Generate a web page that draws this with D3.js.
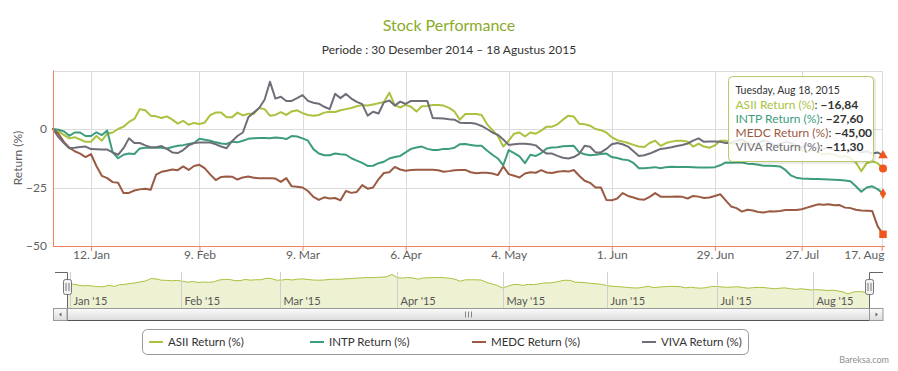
<!DOCTYPE html>
<html lang="id">
<head>
<meta charset="UTF-8">
<title>Stock Performance</title>
<style>
  body{margin:0;background:#fff;}
  svg{display:block;font-family:Lato,"Open Sans",sans-serif;}
  .grid line{stroke:#dcdcdc;stroke-width:1;shape-rendering:crispEdges;}
  .axis text{fill:#606060;font-size:12px;font-family:Lato,"Open Sans",sans-serif;}
  .axis .domain,.axis .tick line{stroke:#f08262;}
  .series{fill:none;stroke-width:2;stroke-linejoin:round;stroke-linecap:round;}
</style>
</head>
<body>
<svg width="898" height="371"></svg>
<script src="https://cdn.jsdelivr.net/npm/d3@7"></script>
<script>
// trading days: weekdays between these dates, minus exchange holidays
var startDate = "2014-12-30", endDate = "2015-08-18";
var holidays = ["2014-12-31","2015-01-01","2015-02-19","2015-04-03","2015-05-01","2015-05-14",
  "2015-06-02","2015-07-16","2015-07-17","2015-07-20","2015-07-21","2015-08-17"];

var seriesNames = ["ASII Return (%)","INTP Return (%)","MEDC Return (%)","VIVA Return (%)"];
var seriesColors = ["#a9c23f","#3d9c7c","#9a5a43","#6f6e78"];
var markerTypes = [d3.symbolCircle, d3.symbolDiamond, d3.symbolSquare, d3.symbolTriangle];
var markerSizes = [50, 34, 56, 40];

var asii = [0,-1,-2.5,-4,-3.5,-4.5,-5.5,-5.5,-3,-5,
  -2,-1.5,0,1,3,4.3,8.5,8,5.7,5.4,
  4.7,5.4,4,2.3,3.5,1.8,2.6,2.1,2.8,6,
  7,7,5,5,7,5.8,6.5,6.5,9,8.5,
  5.7,6,7.2,6,7.5,8,6.8,6,5.7,6,
  7,7.4,7.3,8,8.5,9,9.7,10.2,10,10.5,
  11,11.5,15.5,10.2,9.2,10.3,9.5,7.5,9.7,9.8,
  10.3,10.3,10,9,7.5,4,6.4,6.4,6.4,6,
  2.1,-0.5,-3,-7.5,-5,-2,-1.5,-3.2,-1.5,-2,
  -0.7,1,1,2,4,5.7,5.3,2.2,2,1.4,
  0,-0.5,-1.5,-3.5,-4.8,-5.3,-6,-6.8,-7.5,-7.7,
  -6,-5,-7.2,-6,-5.4,-5,-5,-5.4,-7.5,-6.3,
  -7.5,-8,-7,-5,-5,-6,-6.5,-6,-5.5,-7,
  -8,-7,-6.5,-7,-8,-9,-8,-7.5,-9,-10,
  -9,-10,-11,-10.5,-11,-12,-11.5,-12.5,-14.3,-18,
  -14.6,-13.8,-14.6,-16.84];
var intp = [0,-0.3,-1,-2.9,-1.5,-1.5,-3,-3,-1.4,-2.6,
  -0.7,-10,-12.5,-11,-10.5,-10.7,-8.3,-8,-8,-8,
  -8,-8.3,-7.7,-7.2,-6.9,-6.4,-6,-4.2,-4.6,-5,
  -5.7,-6.2,-6.4,-5.4,-5.7,-5,-4.2,-4,-3.8,-3.8,
  -4,-3.6,-3.8,-4.3,-3,-3.2,-4,-5,-8.6,-10.5,
  -11.2,-11.2,-10.5,-10.8,-11,-12.5,-13.5,-14.5,-15.8,-15.7,
  -14.6,-14,-12.6,-12,-11.5,-10,-8.5,-7.9,-7.5,-8.5,
  -9,-9,-8.5,-8.5,-8,-6.5,-6.4,-6.8,-7.2,-7.2,
  -9.2,-11,-12.6,-15.5,-9,-10.3,-11.7,-14.6,-11,-11.5,
  -10.3,-8.3,-7.9,-7.8,-7.4,-7.3,-7.2,-10,-10.8,-11.2,
  -11,-10.7,-10.5,-12,-12.4,-13,-13.3,-14.5,-16.8,-16.8,
  -16.6,-16.3,-16.8,-16.3,-16.1,-16.2,-16.2,-16.2,-16.3,-16.4,
  -16.5,-16.5,-16.3,-15.5,-14.3,-14.4,-14.2,-14.3,-14.8,-15,
  -15.3,-15.7,-15.7,-15.8,-16,-17.5,-19.8,-20.8,-21.2,-21.3,
  -21.4,-21.4,-21.5,-21.6,-21.7,-21.8,-22,-22.3,-24.5,-26.8,
  -25,-24.5,-25.7,-27.6];
var medc = [0,-2,-5.5,-8,-9.5,-10.5,-12,-10.7,-15.8,-20,
  -21,-22.7,-23,-27.4,-27.3,-26.3,-25.8,-25.5,-26,-19.5,
  -18.3,-17.8,-17.3,-17.6,-16,-17.5,-15.8,-15.3,-16.8,-19.5,
  -21.8,-20.5,-20.3,-20.4,-21.6,-20.7,-20.3,-20.8,-21,-21,
  -21,-21.2,-22.6,-21,-24.5,-24.7,-25,-26.5,-29,-30.3,
  -29.2,-29.7,-29.5,-30.5,-26.5,-27.3,-26.9,-24,-25.5,-25,
  -21.5,-18.8,-18.5,-16.2,-17.3,-17.8,-17.5,-17.4,-17.4,-17.4,
  -17.4,-17.6,-18.3,-18,-17.6,-17.5,-17.5,-18.5,-18.9,-18.7,
  -18.7,-19,-19.7,-16,-19.3,-20,-20.7,-19,-18.5,-18.7,
  -17.6,-18.6,-18.8,-18.3,-18,-18.2,-17.5,-20,-22.1,-23,
  -25,-25,-30.3,-30.5,-29.7,-27.4,-28.6,-29.3,-30,-30.2,
  -29,-27.4,-28.9,-28.9,-28.9,-28.8,-29,-29.7,-28.6,-28.9,
  -29.5,-29.3,-28.6,-27.9,-30.5,-33.1,-33.8,-35.3,-34.5,-34.8,
  -35.5,-35.7,-35.2,-35.3,-35,-34.6,-34.6,-34.6,-34.3,-33.6,
  -32.9,-32.2,-32.4,-32.2,-32.6,-32.5,-33.6,-33.8,-34.5,-34.8,
  -34.9,-35,-41.5,-45];
var viva = [0,-3.5,-6,-8.2,-8,-7.7,-7.5,-8.6,-8.7,-8.8,
  -8.8,-10,-11,-8.2,-4,-6,-6,-7,-7.8,-7.8,
  -7.3,-8.5,-10,-10.3,-9,-7,-6,-5.8,-5.8,-5.8,
  -6.5,-7.5,-8.2,-5.2,-3,-1.5,5,7,9,12.5,
  20.2,13,13.8,12,12,13.2,14.5,12,11.2,10.8,
  9.5,8.5,15,13.2,15,13,11.6,10.6,5.7,7.4,
  6.6,11.4,12.2,10,11.7,10.7,12,12,12,12,
  4.7,4.6,4.5,4.2,4,2.7,2.6,2.6,2.2,1.3,
  0,-1.5,-2.5,-4.5,-6.8,-6.5,-6.3,-6.3,-6.5,-7,
  -9,-10.5,-10.5,-11.5,-12.3,-12.6,-12,-10.6,-7.2,-7.6,
  -10,-10,-8.5,-6.5,-6,-6.5,-7.5,-9.5,-11.5,-11.2,
  -10.5,-9.5,-8.5,-8.2,-7.8,-7.3,-6.8,-6.2,-5,-4,
  -5.5,-5.3,-5.3,-5.5,-6,-6,-5,-4.5,-6,-7,
  -6,-5,-5.5,-7,-6.5,-5.5,-6,-7,-8,-7,
  -7.5,-8,-8.5,-8,-9,-9.5,-9,-9.5,-9,-10,
  -9.5,-10.5,-10,-11.3];

var yTicks = [0, -25, -50];
var xTickDates = ["2015-01-12","2015-02-09","2015-03-09","2015-04-06","2015-05-04",
  "2015-06-01","2015-06-29","2015-07-27","2015-08-17"];
var navTickDates = ["2015-01-01","2015-02-01","2015-03-01","2015-04-01","2015-05-01",
  "2015-06-01","2015-07-01","2015-08-01"];

var allSeries = [asii, intp, medc, viva];

var parseDate = d3.utcParse("%Y-%m-%d"), keyDate = d3.utcFormat("%Y-%m-%d");
var days = d3.utcDays(parseDate(startDate), d3.utcDay.offset(parseDate(endDate), 1))
  .filter(function(d){ var w = d.getUTCDay(); return w !== 0 && w !== 6 && holidays.indexOf(keyDate(d)) < 0; });
var dayNums = days.map(Number);

// ordinal position of any date (interpolated between trading days)
function ordinalPos(s){
  var t = +parseDate(s), i = d3.bisectLeft(dayNums, t);
  if (dayNums[i] === t) return i;
  return i - 1 + (t - dayNums[i-1]) / (dayNums[i] - dayNums[i-1]);
}

var svg = d3.select("svg");
var plot = {left:53, right:883, top:70.5, bottom:246};
var x = d3.scaleLinear().domain([0, days.length - 1]).range([plot.left, plot.right]);
var y = d3.scaleLinear().domain([-50, 25]).range([plot.bottom, plot.top]);

// titles
svg.append("text").attr("x", 449).attr("y", 31).attr("text-anchor", "middle")
  .style("font-size", "16px").style("fill", "#8aab2b").text("Stock Performance");
svg.append("text").attr("x", 449).attr("y", 54).attr("text-anchor", "middle")
  .style("font-size", "12px").style("fill", "#333").text("Periode : 30 Desember 2014 \u2013 18 Agustus 2015");

// grid
var xTickPos = xTickDates.map(ordinalPos);
var grid = svg.append("g").attr("class", "grid");
grid.selectAll(".h").data([25, 0, -25]).enter().append("line")
  .attr("x1", plot.left).attr("x2", plot.right)
  .attr("y1", function(d){ return Math.round(y(d)) + 0.5; })
  .attr("y2", function(d){ return Math.round(y(d)) + 0.5; });
grid.selectAll(".v").data(xTickPos).enter().append("line")
  .attr("x1", function(d){ return Math.round(x(d)) + 0.5; })
  .attr("x2", function(d){ return Math.round(x(d)) + 0.5; })
  .attr("y1", plot.top).attr("y2", plot.bottom);

// series lines
var line = d3.line().x(function(d, i){ return x(i); }).y(function(d){ return y(d); });
svg.selectAll(".series").data(allSeries).enter().append("path")
  .attr("class", "series")
  .attr("stroke", function(d, i){ return seriesColors[i]; })
  .attr("d", line);

// axes
var fmtDay = d3.utcFormat("%-d. %b");
var gx = svg.append("g").attr("class", "axis x")
  .attr("transform", "translate(0," + plot.bottom + ")")
  .call(d3.axisBottom(x).tickValues(xTickPos).tickSizeOuter(0).tickSize(5)
    .tickFormat(function(d, i){ return fmtDay(parseDate(xTickDates[i])); }));
gx.select(".domain").attr("d", "M" + plot.left + ",0.5H" + (plot.right + 2));
gx.selectAll(".tick text").attr("dy", "0.55em").attr("y", 6);
gx.selectAll(".tick").filter(function(d, i){ return i === xTickPos.length - 1; })
  .select("text").attr("text-anchor", "end")
  .attr("x", plot.right + 1 - x(xTickPos[xTickPos.length - 1]));

var gy = svg.append("g").attr("class", "axis y")
  .attr("transform", "translate(" + plot.left + ",0)")
  .call(d3.axisLeft(y).tickValues(yTicks).tickSize(0).tickPadding(6).tickSizeOuter(0));
gy.select(".domain").attr("d", "M0.5," + plot.top + "V" + plot.bottom);
svg.append("text").attr("transform", "translate(22,158) rotate(-90)")
  .attr("text-anchor", "middle").style("font-size", "12px").style("fill", "#606060")
  .text("Return (%)");

// end markers
var last = days.length - 1;
svg.selectAll(".marker").data(allSeries).enter().append("path")
  .attr("d", function(d, i){ return d3.symbol().type(markerTypes[i]).size(markerSizes[i])(); })
  .attr("transform", function(d){ return "translate(" + x(last) + "," + y(d[last]) + ")"; })
  .attr("fill", "#f0561d");

// tooltip
var comma = d3.formatLocale({decimal:",", thousands:".", grouping:[3], currency:["",""], minus:"\u2212"}).format(".2f");
var tip = svg.append("g").attr("transform", "translate(728.5,76.5)");
tip.append("rect").attr("x", 1).attr("y", 1).attr("width", 145).attr("height", 85).attr("rx", 4)
  .attr("fill", "none").attr("stroke", "#000").attr("stroke-opacity", 0.08).attr("stroke-width", 3);
tip.append("rect").attr("width", 145).attr("height", 85).attr("rx", 4)
  .attr("fill", "#fff").attr("fill-opacity", 0.85).attr("stroke", "#b7cb6b");
tip.append("text").attr("x", 7).attr("y", 17).style("font-size", "10.5px").style("fill", "#333")
  .text(d3.utcFormat("%A, %b %-d, %Y")(days[last]));
var rows = tip.selectAll(".row").data(allSeries).enter().append("text")
  .attr("x", 7).attr("y", function(d, i){ return 32 + i * 14.3; })
  .style("font-size", "12px");
rows.append("tspan").style("fill", function(d, i){ return seriesColors[i]; })
  .text(function(d, i){ return seriesNames[i]; });
rows.append("tspan").style("fill", "#333").text(": ");
rows.append("tspan").style("fill", "#333").style("font-weight", "bold")
  .text(function(d){ return comma(d[last]); });

// navigator
var nav = {left:67, right:869, top:272, bottom:308};
var nx = d3.scaleLinear().domain([0, days.length - 1]).range([nav.left, nav.right]);
var ny = d3.scaleLinear().domain(d3.extent(asii)).range([294, 274.5]);
svg.append("path").datum(asii)
  .attr("fill", "#eef2d2")
  .attr("d", d3.area().x(function(d, i){ return nx(i); }).y0(nav.bottom).y1(function(d){ return ny(d); }));
svg.append("path").datum(asii).attr("fill", "none").attr("stroke", "#a9c23f").attr("stroke-width", 1)
  .attr("d", d3.line().x(function(d, i){ return nx(i); }).y(function(d){ return ny(d); }));
var navPos = navTickDates.map(ordinalPos);
var fmtMonth = d3.utcFormat("%b '%y");
var navTicks = svg.append("g").selectAll("g").data(navPos).enter().append("g")
  .attr("transform", function(d){ return "translate(" + (Math.round(nx(d)) + 0.5) + ",0)"; });
navTicks.append("line").attr("y1", nav.top).attr("y2", nav.bottom).attr("stroke", "#cfcfcf");
navTicks.append("text").attr("x", 3).attr("y", 305).style("font-size", "11px").style("fill", "#555")
  .text(function(d, i){ return fmtMonth(parseDate(navTickDates[i])); });

// navigator outline
svg.append("path").attr("fill", "none").attr("stroke", "#666").attr("stroke-width", 1)
  .attr("d", "M55," + (nav.top + 0.5) + "H" + (nav.left + 0.5) + "V" + nav.bottom +
    "M" + (nav.right + 0.5) + "," + nav.bottom + "V" + (nav.top + 0.5) + "H883");
[nav.left, nav.right].forEach(function(hx){
  var h = svg.append("g").attr("transform", "translate(" + (hx + 0.5) + ",287)");
  h.append("rect").attr("x", -4).attr("y", -7.5).attr("width", 8).attr("height", 15).attr("rx", 2)
    .attr("fill", "#f2f2f2").attr("stroke", "#777");
  h.append("path").attr("d", "M-1.5,-4V4M1.5,-4V4").attr("stroke", "#777");
});

// scrollbar
var sb = {top:308.5, height:12};
var grad = svg.append("defs").append("linearGradient").attr("id", "sbgrad")
  .attr("x1", 0).attr("y1", 0).attr("x2", 0).attr("y2", 1);
grad.append("stop").attr("offset", 0).attr("stop-color", "#fbfbfb");
grad.append("stop").attr("offset", 1).attr("stop-color", "#dcdcdc");
svg.append("rect").attr("x", 53.5).attr("y", sb.top).attr("width", 829).attr("height", sb.height)
  .attr("fill", "#f4f4f4").attr("stroke", "#999");
svg.append("rect").attr("x", nav.left + 0.5).attr("y", sb.top).attr("width", nav.right - nav.left).attr("height", sb.height)
  .attr("fill", "url(#sbgrad)").attr("stroke", "#999");
svg.append("path").attr("d", "M" + (plot.left + 0.5) + "," + (sb.top + sb.height) + "H" + (plot.right))
  .attr("stroke", "#555");
var mid = (nav.left + nav.right) / 2;
svg.append("path").attr("stroke", "#888")
  .attr("d", "M" + (mid - 2.5) + "," + (sb.top + 3) + "v6M" + (mid + 0.5) + "," + (sb.top + 3) + "v6M" + (mid + 3.5) + "," + (sb.top + 3) + "v6");
[[53.5, 1], [869.5, -1]].forEach(function(b){
  var bx = b[0];
  svg.append("rect").attr("x", bx).attr("y", sb.top).attr("width", 13.5).attr("height", sb.height)
    .attr("fill", "url(#sbgrad)").attr("stroke", "#999");
  var cx = bx + 7, cy = sb.top + sb.height / 2;
  svg.append("path").attr("fill", "#666")
    .attr("d", b[1] > 0 ? "M" + (cx + 1) + "," + (cy - 2) + "L" + (cx - 1.5) + "," + cy + "L" + (cx + 1) + "," + (cy + 2) + "Z"
                         : "M" + (cx - 1) + "," + (cy - 2) + "L" + (cx + 1.5) + "," + cy + "L" + (cx - 1) + "," + (cy + 2) + "Z");
});

// legend
var legendX = [149, 310, 472, 642];
svg.append("rect").attr("x", 142.5).attr("y", 329.5).attr("width", 606).attr("height", 25).attr("rx", 5)
  .attr("fill", "#fff").attr("stroke", "#999");
var items = svg.selectAll(".legend").data(seriesNames).enter().append("g")
  .attr("transform", function(d, i){ return "translate(" + legendX[i] + ",342)"; });
items.append("line").attr("x1", 0).attr("x2", 14).attr("stroke-width", 2)
  .attr("stroke", function(d, i){ return seriesColors[i]; });
items.append("text").attr("x", 19).attr("dy", "0.35em").style("font-size", "11.5px").style("fill", "#333")
  .text(function(d){ return d; });

svg.append("text").attr("x", 889).attr("y", 363).attr("text-anchor", "end")
  .style("font-size", "9px").style("fill", "#909090").text("Bareksa.com");
</script>
</body>
</html>
